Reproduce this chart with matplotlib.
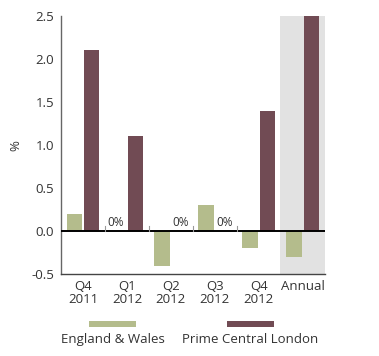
import numpy as np
import matplotlib
matplotlib.use("Agg")
import matplotlib.pyplot as plt
from matplotlib.patches import Rectangle

plt.rcParams["font.family"] = ["Open Sans", "DejaVu Sans"]

# Dados
periods       = ["Q4\n2011", "Q1\n2012", "Q2\n2012", "Q3\n2012", "Q4\n2012", "Annual"]
england_wales = [0.2, 0.0, -0.4, 0.3, -0.2, -0.3]
prime_london  = [2.1, 1.1, 0.0, 0.0, 1.4, 2.5]
series_names  = ["England & Wales", "Prime Central London"]
yticks        = [-0.5, 0.0, 0.5, 1.0, 1.5, 2.0, 2.5]

GREEN  = "#b4bc8c"
MAROON = "#714b54"
SHADE  = "#e2e2e2"
TXT    = "#333333"

fig = plt.figure(figsize=(3.79, 3.56), dpi=100)
ax = fig.add_axes([0.161, 0.230, 0.696, 0.725])

x = np.arange(len(periods))
w = 0.35
off = 0.2

ax.axvspan(len(periods) - 1.52, len(periods) - 0.5, color=SHADE, zorder=0, lw=0)
ax.bar(x - off, england_wales, width=w, color=GREEN, zorder=2)
ax.bar(x + off, prime_london, width=w, color=MAROON, zorder=2)

ax.axhline(0, color="black", lw=1.4, zorder=3)

# pequenos traços entre grupos
for m in (x[:-2] + 0.5):
    ax.plot([m, m], [0, 0.06], color="#999999", lw=0.8, zorder=3)

# rótulos 0%
for i, v in enumerate(england_wales):
    if v == 0:
        ax.text(x[i] - off - 0.05, 0.02, "0%", ha="center", va="bottom", fontsize=8.5, color=TXT)
for i, v in enumerate(prime_london):
    if v == 0:
        ax.text(x[i] + off + 0.02, 0.02, "0%", ha="center", va="bottom", fontsize=8.5, color=TXT)

ax.set_xlim(-0.5, len(periods) - 0.5)
ax.set_ylim(-0.5, 2.5)
ax.set_yticks(yticks)
ax.set_yticklabels([f"{t:.1f}" for t in yticks])
ax.set_xticks(x)
ax.set_xticklabels(periods, linespacing=1.0)
ax.tick_params(axis="both", length=0, labelsize=9.5, colors=TXT)
ax.tick_params(axis="y", pad=5)
ax.tick_params(axis="x", pad=4)
ax.set_ylabel("%", fontsize=9.5, color=TXT, labelpad=6)

for s in ["top", "right"]:
    ax.spines[s].set_visible(False)
ax.spines["left"].set_color("#666666")
ax.spines["bottom"].set_color("#444444")
ax.spines["left"].set_linewidth(1.0)
ax.spines["bottom"].set_linewidth(1.0)

# legenda manual
W, H = 379, 356
for name, color, cx in zip(series_names, [GREEN, MAROON], [112.5, 250]):
    fig.add_artist(Rectangle(((cx - 23.5) / W, 1 - 327 / H), 47 / W, 6 / H,
                             transform=fig.transFigure, color=color, lw=0))
    fig.text(cx / W, 1 - 339.5 / H, name, ha="center", va="center", fontsize=9.5, color=TXT)

plt.savefig("out.png", dpi=100)
